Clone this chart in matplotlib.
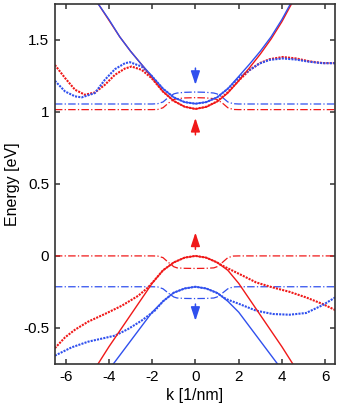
import numpy as np
import matplotlib.pyplot as plt

plt.rcParams['font.family'] = ['Liberation Sans', 'DejaVu Sans']

RED = '#f01818'
BLUE = '#3050ee'

# conduction band, solid (bare bands)
k_cb_red = [-4.5, -4.0, -3.5, -3.0, -2.5, -2.0, -1.5, -1.0, -0.5, 0.0,
            0.5, 1.0, 1.5, 2.0, 2.5, 3.0, 3.5, 4.0, 4.45]
e_cb_red = [1.75, 1.635, 1.52, 1.42, 1.33, 1.235, 1.14, 1.075, 1.035, 1.019,
            1.033, 1.07, 1.13, 1.215, 1.305, 1.40, 1.505, 1.625, 1.75]
k_cb_blue = [-4.55, -4.0, -3.5, -3.0, -2.5, -2.0, -1.5, -1.0, -0.5, 0.0,
             0.5, 1.0, 1.5, 2.0, 2.5, 3.0, 3.5, 4.0, 4.4]
e_cb_blue = [1.76, 1.64, 1.52, 1.42, 1.33, 1.245, 1.16, 1.10, 1.067, 1.056,
             1.067, 1.10, 1.16, 1.245, 1.33, 1.42, 1.52, 1.64, 1.75]

# conduction band, dotted
k_cbd_red = [-6.5, -6.03, -5.57, -5.11, -4.65, -4.19, -3.72, -3.26, -2.95, -2.49,
             -2.03, -1.5, -1.0, -0.5, 0.0, 0.5, 1.0, 1.5, 2.04, 2.51, 2.97,
             3.43, 4.04, 4.66, 5.27, 5.89, 6.5]
e_cbd_red = [1.325, 1.234, 1.153, 1.118, 1.134, 1.187, 1.257, 1.30, 1.314, 1.291,
             1.234, 1.14, 1.075, 1.035, 1.02, 1.035, 1.072, 1.135, 1.222, 1.29, 1.337,
             1.365, 1.38, 1.37, 1.35, 1.338, 1.338]
k_cbd_blue = [-6.5, -6.03, -5.57, -5.26, -4.65, -4.19, -3.72, -3.26, -3.03, -2.49,
              -2.03, -1.5, -1.0, -0.5, 0.0, 0.5, 1.0, 1.5, 2.0, 2.51, 2.97,
              3.43, 4.04, 4.66, 5.27, 5.89, 6.5]
e_cbd_blue = [1.215, 1.141, 1.107, 1.10, 1.13, 1.222, 1.296, 1.337, 1.344, 1.314,
              1.25, 1.16, 1.10, 1.067, 1.056, 1.067, 1.10, 1.16, 1.235, 1.29, 1.335,
              1.36, 1.37, 1.362, 1.347, 1.337, 1.337]

# conduction band, dash-dot
k_cbx = [-6.5, -2.0, -1.75, -1.5, -1.25, -1.0, -0.85, -0.5, 0.0,
         0.5, 0.85, 1.0, 1.25, 1.5, 1.75, 2.0, 6.5]
e_cbx_red = [1.015, 1.015, 1.016, 1.028, 1.06, 1.085, 1.091, 1.096, 1.098,
             1.096, 1.091, 1.085, 1.06, 1.028, 1.016, 1.015, 1.015]
e_cbx_blue = [1.054, 1.054, 1.056, 1.068, 1.10, 1.124, 1.130, 1.135, 1.137,
              1.135, 1.130, 1.124, 1.10, 1.068, 1.056, 1.054, 1.054]

# valence band, solid
k_vb_red = [-4.55, -4.0, -3.5, -3.0, -2.5, -2.0, -1.5, -1.0, -0.5, 0.0,
            0.5, 1.0, 1.5, 2.0, 2.5, 3.0, 3.5, 4.0, 4.55]
e_vb_red = [-0.76, -0.63, -0.52, -0.41, -0.30, -0.19, -0.10, -0.045, -0.012, 0.0,
            -0.012, -0.045, -0.10, -0.19, -0.30, -0.41, -0.52, -0.63, -0.76]
k_vb_blue = [-3.85, -3.5, -3.0, -2.5, -2.0, -1.5, -1.0, -0.5, 0.0,
             0.5, 1.0, 1.5, 2.0, 2.5, 3.0, 3.5, 3.85]
e_vb_blue = [-0.76, -0.69, -0.59, -0.49, -0.39, -0.315, -0.255, -0.226, -0.214,
             -0.226, -0.255, -0.315, -0.39, -0.49, -0.59, -0.69, -0.76]

# valence band, dotted
k_vbd_red = [-6.5, -6.03, -5.57, -4.96, -4.19, -3.41, -2.65, -2.2, -1.9, -1.5,
             -1.0, -0.5, 0.0, 0.5, 1.0, 1.27, 1.74, 2.2, 2.81, 3.58, 4.35,
             5.12, 5.89, 6.5]
e_vbd_red = [-0.64, -0.565, -0.512, -0.456, -0.403, -0.346, -0.277, -0.22, -0.17, -0.10,
             -0.045, -0.012, 0.0, -0.012, -0.045, -0.069, -0.104, -0.138, -0.184, -0.219, -0.249,
             -0.288, -0.334, -0.378]
k_vbd_blue = [-6.5, -5.72, -4.96, -4.19, -3.72, -3.11, -2.49, -1.88, -1.5, -1.0,
              -0.5, 0.0, 0.5, 1.0, 1.43, 2.04, 2.81, 3.58, 4.35, 5.12, 5.89, 6.5]
e_vbd_blue = [-0.692, -0.634, -0.595, -0.569, -0.553, -0.507, -0.449, -0.38, -0.315, -0.255,
              -0.226, -0.214, -0.226, -0.258, -0.30, -0.334, -0.38, -0.403, -0.408, -0.396, -0.341, -0.285]

# valence band, dash-dot
k_vbx = [-6.5, -2.0, -1.75, -1.5, -1.25, -1.0, -0.85, -0.5, 0.0,
         0.5, 0.85, 1.0, 1.25, 1.5, 1.75, 2.0, 6.5]
e_vbx_red = [0.0, 0.0, -0.001, -0.012, -0.045, -0.075, -0.083, -0.086, -0.087,
             -0.086, -0.083, -0.075, -0.045, -0.012, -0.001, 0.0, 0.0]
e_vbx_blue = [-0.214, -0.214, -0.215, -0.228, -0.258, -0.285, -0.292, -0.295, -0.296,
              -0.295, -0.292, -0.285, -0.258, -0.228, -0.215, -0.214, -0.214]

# spin arrows at k = 0: (tail, head, colour)
arrows = [(1.303, 1.187, BLUE), (0.84, 0.957, RED),
          (0.046, 0.162, RED), (-0.334, -0.45, BLUE)]

fig = plt.figure(figsize=(3.41, 4.09), dpi=100)
ax = fig.add_axes([0.161, 0.110, 0.821, 0.881])

dd = (6.0, 1.8, 1.0, 1.8)
dot = (1.0, 0.55)

ax.plot(k_cbx, e_cbx_red, color=RED, lw=0.9, dashes=dd)
ax.plot(k_cbx, e_cbx_blue, color=BLUE, lw=0.9, dashes=dd)
ax.plot(k_vbx, e_vbx_red, color=RED, lw=0.9, dashes=dd)
ax.plot(k_vbx, e_vbx_blue, color=BLUE, lw=0.9, dashes=dd)

ax.plot(k_cbd_red, e_cbd_red, color=RED, lw=1.5, dashes=dot)
ax.plot(k_cbd_blue, e_cbd_blue, color=BLUE, lw=1.5, dashes=dot)
ax.plot(k_vbd_red, e_vbd_red, color=RED, lw=1.5, dashes=dot)
ax.plot(k_vbd_blue, e_vbd_blue, color=BLUE, lw=1.5, dashes=dot)

ax.plot(k_cb_red, e_cb_red, color=RED, lw=1.0)
ax.plot(k_cb_blue, e_cb_blue, color=BLUE, lw=1.0)
ax.plot(k_vb_red, e_vb_red, color=RED, lw=1.0)
ax.plot(k_vb_blue, e_vb_blue, color=BLUE, lw=1.0)

for tail, head, c in arrows:
    ax.annotate('', xy=(0, head), xytext=(0, tail),
                arrowprops=dict(arrowstyle='-|>,head_length=0.75,head_width=0.25',
                                color=c, lw=1.1,
                                mutation_scale=11, shrinkA=0, shrinkB=0))

ax.set_xlim(-6.5, 6.45)
ax.set_ylim(-0.75, 1.75)
ax.set_xticks([-6, -4, -2, 0, 2, 4, 6])
ax.set_yticks([-0.5, 0, 0.5, 1, 1.5])
ax.set_yticklabels(['-0.5', '0', '0.5', '1', '1.5'])
ax.set_xticklabels(['-6', '-4', '-2', '0', '2', '4', '6'])
ax.tick_params(direction='in', top=True, right=True, length=3.5, width=1.1,
               color='#333333', labelsize=11, pad=4)
for s in ax.spines.values():
    s.set_linewidth(1.2)
    s.set_color('#333333')
ax.set_xlabel('k [1/nm]', fontsize=11.5, labelpad=3)
ax.set_ylabel('Energy [eV]', fontsize=11.5, labelpad=2)

fig.savefig('out.png', dpi=100)
